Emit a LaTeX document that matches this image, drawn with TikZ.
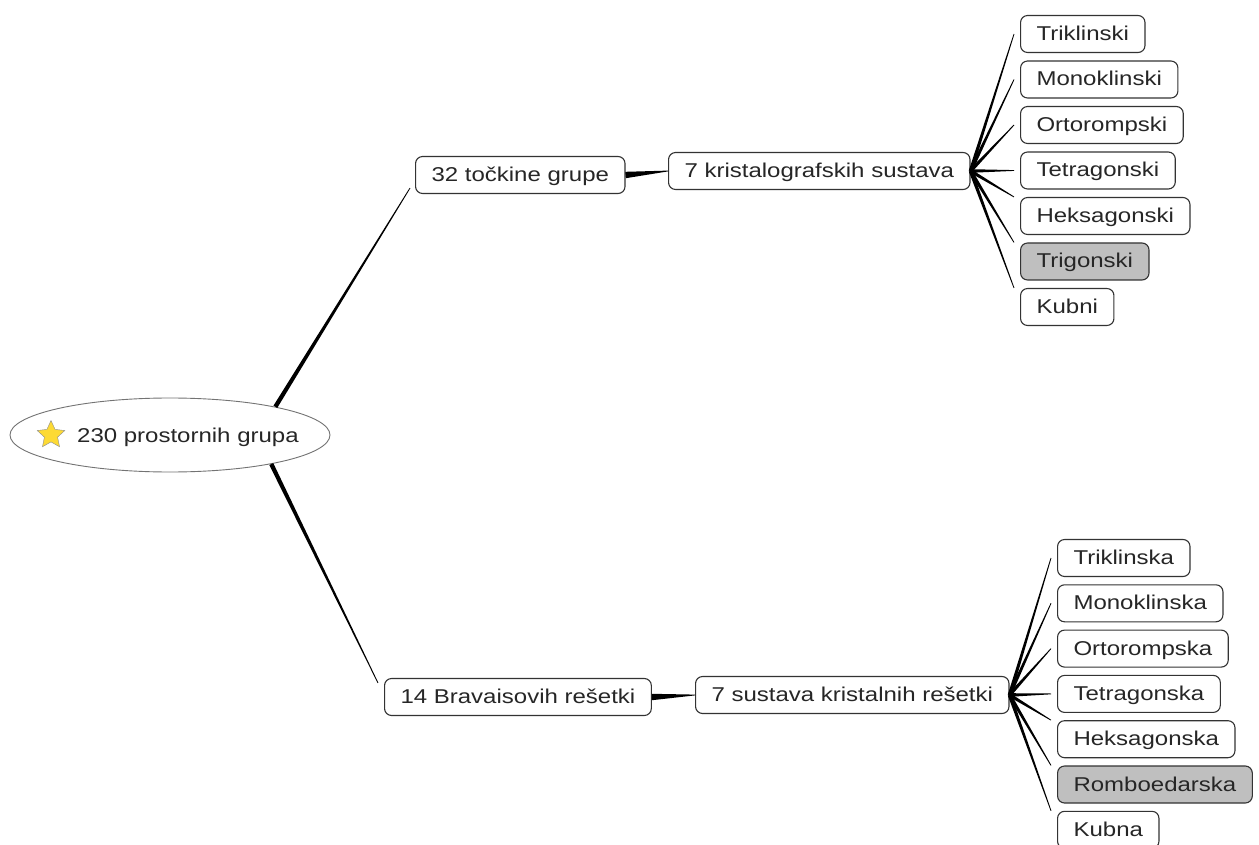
\documentclass[tikz,border=0pt]{standalone}
\usepackage{fontspec}
\setmainfont{Liberation Sans}[FakeStretch=1.2]
\usetikzlibrary{calc,shapes.geometric}

% wedge shaped link, thick at the parent end
\newcommand{\taper}[3][1.8pt]{%
  \fill[black] ($(#2)!#1!90:(#3)$) -- ($(#3)!0.4pt!-90:(#2)$)
    -- ($(#3)!0.4pt!90:(#2)$) -- ($(#2)!#1!-90:(#3)$) -- cycle;}

\begin{document}
\begin{tikzpicture}[x=1pt, y=-1pt,
  topic/.style={draw=black!80, line width=1.1pt, rounded corners=7pt, fill=white,
    inner xsep=16pt, inner ysep=0pt, minimum height=37pt, text height=16pt,
    text depth=3pt, text=black!85, font=\fontsize{20}{24}\selectfont, anchor=west},
  marked/.style={topic, fill=black!25}]

\useasboundingbox (0,0) rectangle (1259,845);

% central topic
\node[ellipse, draw=black!55, line width=0.9pt, fill=white, minimum width=320pt,
  minimum height=74pt] (root) at (170,435) {};
\node[star, star points=5, star point ratio=2.1, minimum size=29pt, inner sep=0pt,
  fill=yellow!70!orange!80, draw=black!45] (star) at (51,435) {};
\node[anchor=west, inner sep=0pt, text=black!85, font=\fontsize{20}{24}\selectfont]
  (rootlabel) at (77,437) {230 prostornih grupa};

% main topics
\node[topic] (tocke) at (415,175) {32 točkine grupe};
\node[topic] (krist) at (668,171) {7 kristalografskih sustava};
\node[topic] (bravais) at (384,697) {14 Bravaisovih rešetki};
\node[topic] (sust) at (695,695) {7 sustava kristalnih rešetki};

\coordinate (tocke-in) at ([xshift=-5pt,yshift=6pt]tocke.south west);
\coordinate (bravais-in) at ([xshift=-6pt,yshift=-5pt]bravais.north west);

\taper[2.2pt]{root.15}{tocke-in}
\taper[2.2pt]{root.-16}{bravais-in}
\taper[3.2pt]{tocke.east}{krist.west}
\taper[3.2pt]{bravais.east}{sust.west}

% subtopics
\foreach \name/\txt/\sty/\anc [count=\i from 0] in {
  triklinski/Triklinski/topic/west, monoklinski/Monoklinski/topic/west,
  ortorompski/Ortorompski/topic/west, tetragonski/Tetragonski/topic/west,
  heksagonski/Heksagonski/topic/north west, trigonski/Trigonski/marked/north west,
  kubni/Kubni/topic/north west}{
  \node[\sty] (\name) at (1020,34+45.5*\i) {\txt};
  \coordinate (\name-in) at ([xshift=-6pt]\name.\anc);
  \taper{krist.east}{\name-in}
}

\foreach \name/\txt/\sty/\anc [count=\i from 0] in {
  triklinska/Triklinska/topic/west, monoklinska/Monoklinska/topic/west,
  ortorompska/Ortorompska/topic/west, tetragonska/Tetragonska/topic/west,
  heksagonska/Heksagonska/topic/north west, romboedarska/Romboedarska/marked/north west,
  kubna/Kubna/topic/north west}{
  \node[\sty] (\name) at (1057,558+45.3*\i) {\txt};
  \coordinate (\name-in) at ([xshift=-6pt]\name.\anc);
  \taper{sust.east}{\name-in}
}
\end{tikzpicture}
\end{document}
